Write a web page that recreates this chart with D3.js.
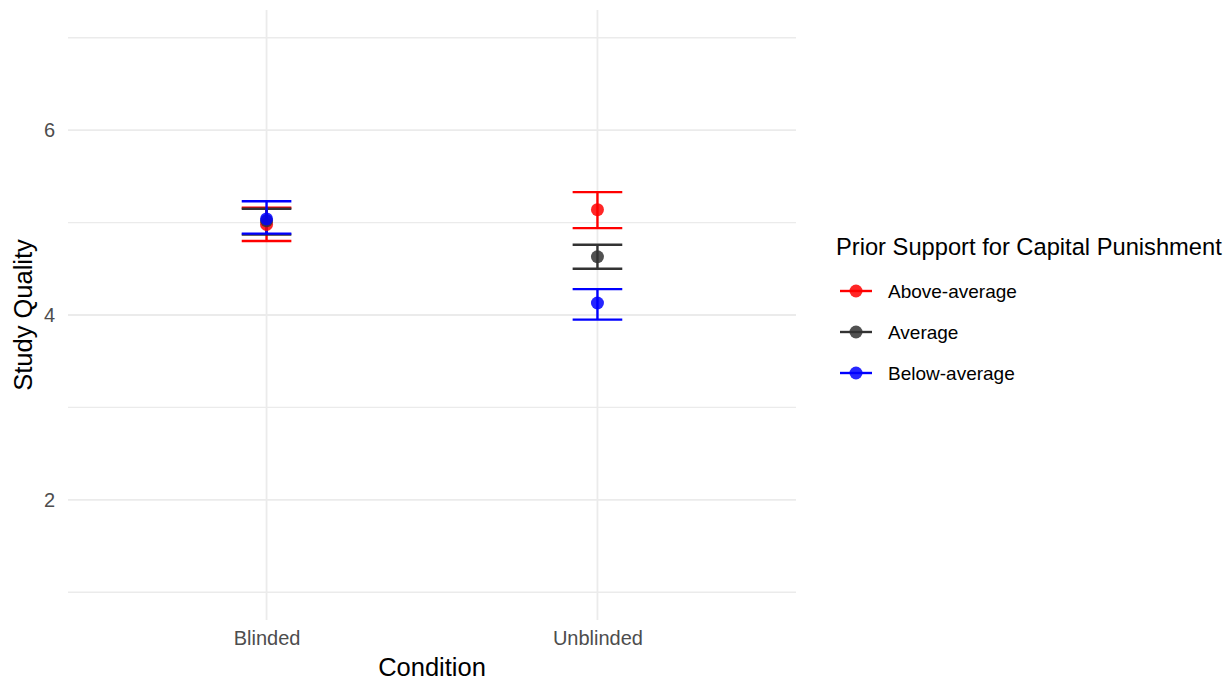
<!DOCTYPE html>
<html>
<head>
<meta charset="utf-8">
<script src="https://cdn.jsdelivr.net/npm/d3@7"></script>
<style>
  html, body { margin: 0; padding: 0; background: #ffffff; }
  svg { display: block; font-family: "Liberation Sans", Arial, Helvetica, sans-serif; }
</style>
</head>
<body>
<svg id="chart" width="1232" height="683"></svg>
<script>
// Conditions on the x axis and support groups in the legend
const conditions = ["Blinded", "Unblinded"];
const groups = ["Above-average", "Average", "Below-average"];
const groupColors = ["#ff0000", "#333333", "#0000ff"];

// Mean study quality per group, one array per condition (order follows groups)
const blindedMean = [4.98, 5.02, 5.04];
const blindedLow = [4.80, 4.87, 4.88];
const blindedHigh = [5.16, 5.15, 5.23];

const unblindedMean = [5.14, 4.63, 4.13];
const unblindedLow = [4.94, 4.50, 3.95];
const unblindedHigh = [5.33, 4.76, 4.28];

const yMajorTicks = [2, 4, 6];
const yMinorTicks = [1, 3, 5, 7];

const rows = [];
groups.forEach((g, i) => {
  rows.push({ condition: "Blinded", group: g, mean: blindedMean[i], lo: blindedLow[i], hi: blindedHigh[i] });
  rows.push({ condition: "Unblinded", group: g, mean: unblindedMean[i], lo: unblindedLow[i], hi: unblindedHigh[i] });
});

const svg = d3.select("#chart");
const panel = { left: 68, right: 796, top: 10, bottom: 620 };

const x = d3.scalePoint().domain(conditions).range([panel.left, panel.right]).padding(0.6);
const step = x.step();
const y = d3.scaleLinear().domain([0.7, 7.3]).range([panel.bottom, panel.top]);
const color = d3.scaleOrdinal().domain(groups).range(groupColors);

const grid = svg.append("g");
// minor horizontal grid
grid.selectAll("line.minor").data(yMinorTicks).join("line")
  .attr("class", "minor")
  .attr("x1", panel.left).attr("x2", panel.right)
  .attr("y1", d => y(d)).attr("y2", d => y(d))
  .attr("stroke", "#ebebeb").attr("stroke-width", 1.3);
// major horizontal grid
grid.selectAll("line.major").data(yMajorTicks).join("line")
  .attr("class", "major")
  .attr("x1", panel.left).attr("x2", panel.right)
  .attr("y1", d => y(d)).attr("y2", d => y(d))
  .attr("stroke", "#ebebeb").attr("stroke-width", 1.8);
// vertical grid at each condition
grid.selectAll("line.vert").data(conditions).join("line")
  .attr("class", "vert")
  .attr("x1", d => x(d)).attr("x2", d => x(d))
  .attr("y1", panel.top).attr("y2", panel.bottom)
  .attr("stroke", "#ebebeb").attr("stroke-width", 1.8);

// y axis tick labels
const yAxis = d3.axisLeft(y).tickValues(yMajorTicks).tickFormat(d3.format("d")).tickSize(0).tickPadding(0);
const yg = svg.append("g").attr("transform", `translate(${panel.left - 13},0)`).call(yAxis);
yg.select(".domain").remove();
yg.selectAll("text").attr("fill", "#4d4d4d").style("font-size", "20px")
  .style("font-family", "'Liberation Sans', Arial, sans-serif");

// x axis tick labels
const xAxis = d3.axisBottom(x).tickSize(0).tickPadding(0);
const xg = svg.append("g").attr("transform", `translate(0,${panel.bottom + 11})`).call(xAxis);
xg.select(".domain").remove();
xg.selectAll("text").attr("fill", "#4d4d4d").style("font-size", "20px")
  .style("font-family", "'Liberation Sans', Arial, sans-serif");

// axis titles
svg.append("text").attr("x", (panel.left + panel.right) / 2).attr("y", 676)
  .attr("text-anchor", "middle").style("font-size", "25.5px").attr("fill", "#000")
  .text("Condition");
svg.append("text").attr("transform", `translate(32,${(panel.top + panel.bottom) / 2}) rotate(-90)`)
  .attr("text-anchor", "middle").style("font-size", "25.5px").attr("fill", "#000")
  .text("Study Quality");

// error bars and points
const capHalf = step * 0.075;
const marks = svg.append("g");
const bars = marks.selectAll("g.bar").data(rows).join("g");
bars.append("line")
  .attr("x1", d => x(d.condition)).attr("x2", d => x(d.condition))
  .attr("y1", d => y(d.lo)).attr("y2", d => y(d.hi))
  .attr("stroke", d => color(d.group)).attr("stroke-width", 2.4);
bars.append("line")
  .attr("x1", d => x(d.condition) - capHalf).attr("x2", d => x(d.condition) + capHalf)
  .attr("y1", d => y(d.lo)).attr("y2", d => y(d.lo))
  .attr("stroke", d => color(d.group)).attr("stroke-width", 2.4);
bars.append("line")
  .attr("x1", d => x(d.condition) - capHalf).attr("x2", d => x(d.condition) + capHalf)
  .attr("y1", d => y(d.hi)).attr("y2", d => y(d.hi))
  .attr("stroke", d => color(d.group)).attr("stroke-width", 2.4);
marks.selectAll("circle").data(rows).join("circle")
  .attr("cx", d => x(d.condition)).attr("cy", d => y(d.mean)).attr("r", 6.5)
  .attr("fill", d => color(d.group)).attr("fill-opacity", 0.85);

// legend
const legend = svg.append("g").attr("transform", "translate(836,0)");
legend.append("text").attr("x", 0).attr("y", 255).style("font-size", "23.7px").attr("fill", "#000")
  .text("Prior Support for Capital Punishment");
const items = legend.selectAll("g.item").data(groups).join("g")
  .attr("transform", (d, i) => `translate(0,${291 + i * 41})`);
items.append("line").attr("x1", 4).attr("x2", 36).attr("y1", 0).attr("y2", 0)
  .attr("stroke", d => color(d)).attr("stroke-width", 2.4);
items.append("circle").attr("cx", 20).attr("cy", 0).attr("r", 6.5)
  .attr("fill", d => color(d)).attr("fill-opacity", 0.85);
items.append("text").attr("x", 52).attr("y", 0).attr("dy", "0.35em")
  .style("font-size", "19px").attr("fill", "#000").text(d => d);
</script>
</body>
</html>
